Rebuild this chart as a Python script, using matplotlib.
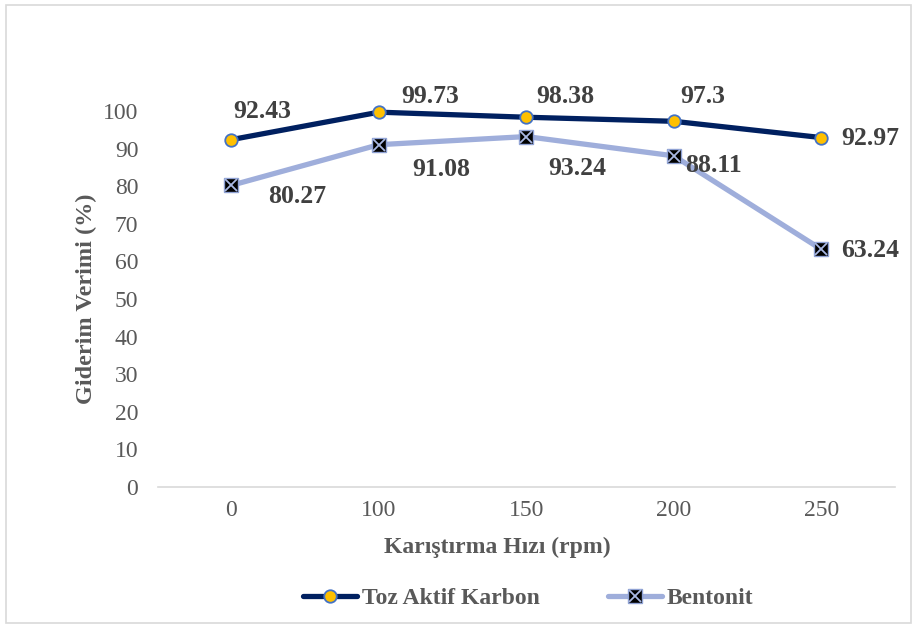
import matplotlib.pyplot as plt
from matplotlib.patches import Rectangle

plt.rcParams['font.family'] = ['Liberation Serif', 'DejaVu Serif']

hiz = ["0", "100", "150", "200", "250"]
toz_aktif_karbon = [92.43, 99.73, 98.38, 97.3, 92.97]
bentonit = [80.27, 91.08, 93.24, 88.11, 63.24]

# label offsets in pixels (dx, dy)
toz_off = [(31, 28), (51, 16), (39, 21), (29, 25), (49, -1)]
ben_off = [(66, -11), (62, -25), (51, -32), (40, -10), (49, -1)]

fig = plt.figure(figsize=(9.17, 6.28), dpi=100)
ax = fig.add_axes([0.172, 0.2245, 0.804, 0.5985])
fig.patches.append(Rectangle((0.006, 0.008), 0.988, 0.984, transform=fig.transFigure,
                             fill=False, edgecolor="#d9d9d9", linewidth=1.2))

x = range(len(hiz))
l1, = ax.plot(x, toz_aktif_karbon, color="#002060", linewidth=3.8, marker="o",
              markersize=9, markerfacecolor="#FFC000", markeredgecolor="#4472C4",
              markeredgewidth=1.3, clip_on=False, zorder=4, solid_capstyle="round")
l2, = ax.plot(x, bentonit, color="#9FAEDB", linewidth=3.8, marker="s",
              markersize=10, markerfacecolor="black", markeredgecolor="#8FA2D4",
              markeredgewidth=1, clip_on=False, zorder=3, solid_capstyle="round")
l2x, = ax.plot(x, bentonit, linestyle="none", marker="x", markersize=8,
               markeredgecolor="#A9B8E3", markeredgewidth=1.3, clip_on=False, zorder=3.5)

for i, v in enumerate(toz_aktif_karbon):
    ax.annotate(f"{v:g}", (i, v), xytext=toz_off[i], textcoords="offset pixels",
                ha="center", va="center", fontsize=18.5, fontweight="bold", color="#404040")
for i, v in enumerate(bentonit):
    ax.annotate(f"{v:g}", (i, v), xytext=ben_off[i], textcoords="offset pixels",
                ha="center", va="center", fontsize=18.5, fontweight="bold", color="#404040")

ax.set_xlim(-0.5, 4.5)
ax.set_ylim(0, 100)
ax.set_yticks(range(0, 101, 10))
ax.set_xticks(list(x))
ax.set_xticklabels(hiz)
for s in ["top", "right", "left"]:
    ax.spines[s].set_visible(False)
ax.spines["bottom"].set_color("#d9d9d9")
ax.spines["bottom"].set_linewidth(1.2)
ax.tick_params(length=0, labelsize=17, colors="#595959", pad=9)
ax.tick_params(axis="y", pad=14)

ax.set_xlabel("Karıştırma Hızı (rpm)", fontsize=17, fontweight="bold", color="#595959")
ax.xaxis.set_label_coords(0.461, -0.133)
ax.set_ylabel("Giderim Verimi (%)", fontsize=17.5, fontweight="bold", color="#595959", labelpad=4)

leg = fig.legend([l1, (l2, l2x)], ["Toz Aktif Karbon", "Bentonit"], loc="center",
                 bbox_to_anchor=(0.576, 0.047), ncol=2, frameon=False, handlelength=2.3,
                 columnspacing=2.9, handletextpad=0.2,
                 prop={"size": 17, "weight": "bold"})
for t in leg.get_texts():
    t.set_color("#595959")

fig.savefig("out.png", dpi=100)
